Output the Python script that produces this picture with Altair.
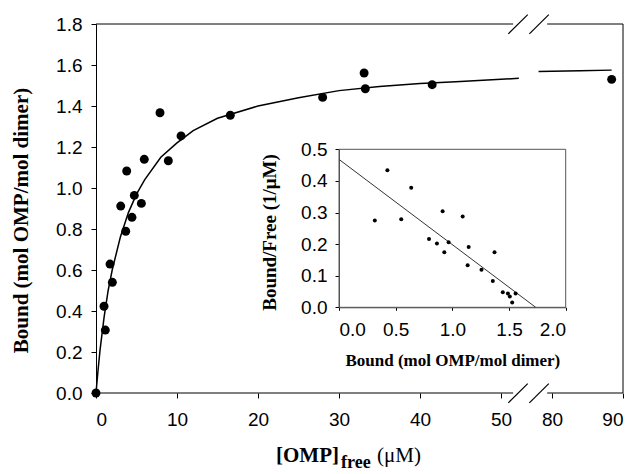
import altair as alt
import pandas as pd

# ---------------- data ----------------
main_x = [0, 0.99, 1.15, 1.73, 2.02, 3.05, 3.67, 3.79, 4.44, 4.73, 5.6, 5.96,
          7.9, 8.93, 10.5, 16.58, 27.98, 33.1, 33.25, 41.5, 88.4]
main_y = [0, 0.423, 0.307, 0.629, 0.54, 0.912, 0.789, 1.083, 0.857, 0.964, 0.925, 1.14,
          1.367, 1.133, 1.254, 1.355, 1.442, 1.561, 1.484, 1.504, 1.53]

curve_x = [0, 0.25, 0.5, 1, 1.5, 2, 3, 4, 5, 6, 8, 10, 12, 15, 20, 25, 30, 35, 40, 45, 52.2,
           78.1, 80, 84, 88.4]
curve_y = [0, 0.11, 0.21, 0.37, 0.50, 0.60, 0.76, 0.88, 0.97, 1.04, 1.15, 1.22, 1.28, 1.34,
           1.40, 1.44, 1.475, 1.495, 1.51, 1.52, 1.535,
           1.568, 1.57, 1.572, 1.575]
curve_seg = ["a"] * 21 + ["b"] * 4

inset_x = [0.316, 0.427, 0.549, 0.637, 0.794, 0.864, 0.914, 0.929, 0.967, 1.091, 1.135,
           1.144, 1.257, 1.357, 1.372, 1.445, 1.49, 1.507, 1.528, 1.558]
inset_y = [0.275, 0.434, 0.279, 0.378, 0.216, 0.202, 0.304, 0.174, 0.206, 0.287, 0.133,
           0.191, 0.119, 0.083, 0.174, 0.048, 0.044, 0.034, 0.015, 0.044]

fit_x = [0, 1.735]
fit_y = [0.468, 0]

x_ticks = [0, 10, 20, 30, 40, 50, 80, 90]
y_ticks = [0, 0.2, 0.4, 0.6, 0.8, 1.0, 1.2, 1.4, 1.6, 1.8]
inset_x_ticks = [0, 0.5, 1.0, 1.5, 2.0]
inset_y_ticks = [0, 0.1, 0.2, 0.3, 0.4, 0.5]

# ---------------- layout constants ----------------
W, H = 527, 369
BREAK_TO = 56.3      # display position of 80
BREAK_K = 0.876      # compression of the 80-90 segment
XMAX = 65.06         # display position of 90
BREAK_EXPR = f"datum.x <= 65 ? datum.x : {BREAK_TO} + (datum.x - 80) * {BREAK_K}"


def disp(v):
    return v if v <= 65 else BREAK_TO + (v - 80) * BREAK_K


SANS = "Liberation Sans"
SERIF = "Liberation Serif"

xscale = alt.Scale(domain=[0, XMAX], nice=False, zero=False)
yscale = alt.Scale(domain=[0, 1.8], nice=False)

x_axis = alt.Axis(
    values=[disp(v) for v in x_ticks],
    labelExpr="datum.value > 60 ? '90' : (datum.value > 55 ? '80' : format(datum.value, 'd'))",
    domain=False, grid=False, tickSize=5, tickColor="black", labelColor="black",
    labelFont=SANS, labelFontSize=19, labelPadding=12, title=None,
)
y_axis = alt.Axis(
    values=y_ticks, format=".1f", grid=False, domain=True, domainColor="black",
    tickSize=5, tickColor="black", labelColor="black", labelFont=SANS, labelFontSize=19,
    labelPadding=9, title="Bound (mol OMP/mol dimer)", titleFont=SERIF, titleFontSize=21,
    titleFontWeight="bold", titleColor="black", titlePadding=24, titleY=196,
)

main_df = pd.DataFrame({"x": main_x, "y": main_y})
curve_df = pd.DataFrame({"x": curve_x, "y": curve_y, "seg": curve_seg})

X = alt.X("xd:Q", scale=xscale, axis=x_axis)
Y = alt.Y("y:Q", scale=yscale, axis=y_axis)

curve = alt.Chart(curve_df).transform_calculate(xd=BREAK_EXPR).mark_line(
    color="black", strokeWidth=1.5
).encode(x=X, y=Y, detail="seg:N", order="x:Q")

points = alt.Chart(main_df).transform_calculate(xd=BREAK_EXPR).mark_circle(
    color="black", size=80, opacity=1
).encode(x=X, y=Y)

# frame of the main panel (with the break gap)
frame_df = pd.DataFrame({
    "xd": [0, 55.7, 0, 55.7, XMAX],
    "xd2": [51.5, XMAX, 51.5, XMAX, XMAX],
    "y": [0, 0, 1.8, 1.8, 0],
    "y2": [0, 0, 1.8, 1.8, 1.8],
})
frame = alt.Chart(frame_df).mark_rule(color="black", strokeWidth=1).encode(
    x=X, x2="xd2:Q", y=Y, y2="y2:Q"
)

slash_df = pd.DataFrame({
    "xd": [50.9, 53.5, 50.9, 53.5],
    "xd2": [53.3, 55.9, 53.3, 55.9],
    "y": [-0.048, -0.048, 1.752, 1.752],
    "y2": [0.046, 0.046, 1.846, 1.846],
})
slashes = alt.Chart(slash_df).mark_rule(color="black", strokeWidth=1.2).encode(
    x=X, x2="xd2:Q", y=Y, y2="y2:Q"
)

# x-axis title with subscript
t_df = pd.DataFrame({"t": ["x"]})
t1 = alt.Chart(t_df).mark_text(
    text="[OMP]", font=SERIF, fontSize=21, fontWeight="bold", align="right",
    baseline="alphabetic", color="black"
).encode(x=alt.value(243), y=alt.value(438))
t2 = alt.Chart(t_df).mark_text(
    text="free", font=SERIF, fontSize=18, fontWeight="bold", align="left",
    baseline="alphabetic", color="black"
).encode(x=alt.value(245), y=alt.value(444))
t3 = alt.Chart(t_df).mark_text(
    text="(\u03bcM)", font=SERIF, fontSize=21, fontWeight="normal", align="left",
    baseline="alphabetic", color="black"
).encode(x=alt.value(281), y=alt.value(438))

main = alt.layer(frame, slashes, curve, points, t1, t2, t3)

# ---------------- inset ----------------
ix_scale = alt.Scale(domain=[0, 2], range=[243, 469.7], nice=False, zero=False)
iy_scale = alt.Scale(domain=[0, 0.5], range=[283.3, 125.3], nice=False)

ix_axis = alt.Axis(
    orient="bottom", offset=-85.7, values=inset_x_ticks, format=".1f", grid=False,
    domain=True, domainColor="#555", tickSize=3, tickColor="black", labelColor="black",
    labelFont=SANS, labelFontSize=19, labelPadding=10,
    title="Bound (mol OMP/mol dimer)", titleFont=SERIF, titleFontSize=17,
    titleFontWeight="bold", titleColor="black", titlePadding=13,
)
iy_axis = alt.Axis(
    orient="left", offset=-243, values=inset_y_ticks, format=".1f", grid=False,
    domain=True, domainColor="#555", tickSize=4, tickColor="black", labelColor="black",
    labelFont=SANS, labelFontSize=19, labelPadding=8,
    title="Bound/Free (1/\u03bcM)", titleFont=SERIF, titleFontSize=19,
    titleFontWeight="bold", titleColor="black", titlePadding=21, titleY=208,
)

inset_df = pd.DataFrame({"bx": inset_x, "by": inset_y})
fit_df = pd.DataFrame({"bx": fit_x, "by": fit_y})

IX = alt.X("bx:Q", scale=ix_scale, axis=ix_axis)
IY = alt.Y("by:Q", scale=iy_scale, axis=iy_axis)

inset_frame = alt.Chart(t_df).mark_rect(
    fillOpacity=0, stroke="#555", strokeWidth=1
).encode(
    x=alt.X(datum=0, type="quantitative", scale=ix_scale, axis=ix_axis),
    x2=alt.X2(datum=2),
    y=alt.Y(datum=0, type="quantitative", scale=iy_scale, axis=iy_axis),
    y2=alt.Y2(datum=0.5),
)
inset_line = alt.Chart(fit_df).mark_line(color="#333", strokeWidth=1).encode(x=IX, y=IY)
inset_pts = alt.Chart(inset_df).mark_circle(color="black", size=16, opacity=1).encode(
    x=IX, y=IY
)

inset = alt.layer(inset_frame, inset_line, inset_pts)

chart = alt.layer(main, inset).resolve_scale(
    x="independent", y="independent"
).properties(
    width=W, height=H,
    autosize=alt.AutoSizeParams(type="none"),
    padding={"left": 96, "top": 24, "right": 12, "bottom": 81},
    background="white",
).configure_view(stroke=None)

chart.save("out.html", embed_options={"renderer": "svg", "actions": False})
